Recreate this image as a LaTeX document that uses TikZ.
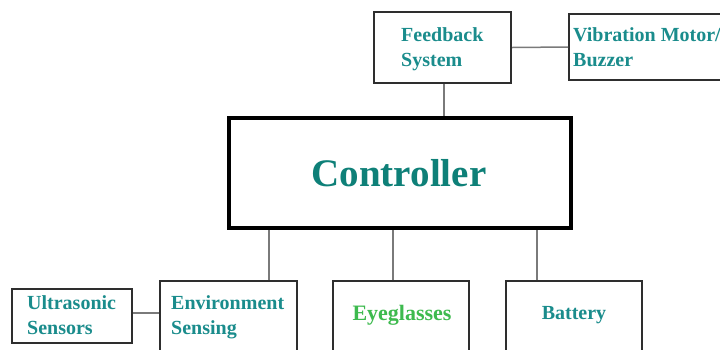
\documentclass[tikz,border=0pt]{standalone}
\usepackage{fontspec}
\setmainfont{Liberation Serif}
\usetikzlibrary{calc}
\definecolor{tealtxt}{HTML}{1A8C8C}
\definecolor{ctrltxt}{HTML}{0E8078}
\definecolor{greentxt}{HTML}{3DBA4E}
\definecolor{boxline}{HTML}{2E2E2E}
\definecolor{wire}{HTML}{7A7A7A}
\begin{document}
\begin{tikzpicture}[x=1pt,y=-1pt,
  block/.style={draw=boxline, line width=2pt, fill=white, inner sep=0pt},
  mainblock/.style={draw=black, line width=3.5pt, fill=white, inner sep=0pt},
  wirestyle/.style={draw=wire, line width=1.5pt},
  lbl/.style={inner sep=0pt, text=tealtxt, align=left,
    font=\fontsize{20}{25}\selectfont\bfseries},
]
\useasboundingbox (0,0) rectangle (720,349);
\clip (0,0) rectangle (720,349);
\fill[white] (0,0) rectangle (720,349);

% blocks
\node[block, minimum width=137pt, minimum height=71pt] (fb)   at (442.5,47.5) {};
\node[block, minimum width=171pt, minimum height=66pt] (vib)  at (654.5,47) {};
\node[mainblock, minimum width=342pt, minimum height=110pt] (ctrl) at (400,173) {};
\node[block, minimum width=120pt, minimum height=54pt] (us)   at (72,316) {};
\node[block, minimum width=137pt, minimum height=89pt] (env)  at (228.5,325.5) {};
\node[block, minimum width=136pt, minimum height=89pt] (eye)  at (401,325.5) {};
\node[block, minimum width=136pt, minimum height=89pt] (bat)  at (574,325.5) {};

% connectors
\draw[wirestyle] (fb.east) -- (vib.west);
\draw[wirestyle] ([xshift=1.5pt]fb.south) -- ([xshift=1.5pt]fb.south |- ctrl.north);
\draw[wirestyle] ([xshift=110pt]env.north west) -- ([xshift=110pt]env.north west |- ctrl.south);
\draw[wirestyle] ([xshift=61pt]eye.north west) -- ([xshift=61pt]eye.north west |- ctrl.south);
\draw[wirestyle] ([xshift=32pt]bat.north west) -- ([xshift=32pt]bat.north west |- ctrl.south);
\draw[wirestyle] ([yshift=3pt]us.east) -- ([yshift=3pt]us.east -| env.west);

% labels
\node[lbl, anchor=west] (fbtxt)  at (401,49.1) {\strut Feedback\\\strut System};
\node[lbl, anchor=west] (vibtxt) at (573,49.1) {\strut Vibration Motor/\\\strut Buzzer};
\node[lbl, anchor=west] (ustxt)  at (27,316.6) {\strut Ultrasonic\\\strut Sensors};
\node[lbl, anchor=west] (envtxt) at (171,316.6) {\strut Environment\\\strut Sensing};
\node[inner sep=0pt, text=greentxt, font=\fontsize{22}{26}\selectfont\bfseries] (eyetxt) at (402,315) {Eyeglasses};
\node[inner sep=0pt, text=tealtxt, font=\fontsize{20}{25}\selectfont\bfseries] (battxt) at (574,315) {Battery};
\node[inner sep=0pt, text=ctrltxt, font=\fontsize{39}{45}\selectfont\bfseries] (ctrltxt) at (399,173) {Controller};
\end{tikzpicture}
\end{document}
